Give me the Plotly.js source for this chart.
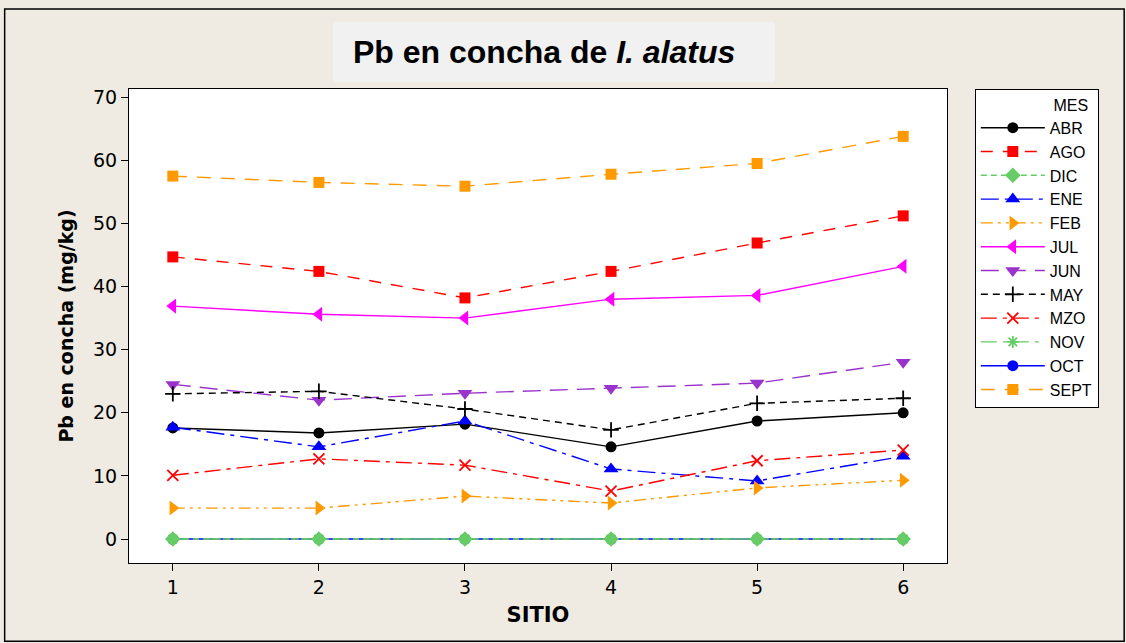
<!DOCTYPE html>
<html><head><meta charset="utf-8">
<script src="https://cdn.plot.ly/plotly-3.0.1.min.js"></script>
<style>body{margin:0;padding:0;background:#EFEBE2;}#chart{width:1126px;height:643px;}</style>
</head><body><div id="chart"></div>
<script>
const sitios = [1, 2, 3, 4, 5, 6];
const meses = ["ABR","AGO","DIC","ENE","FEB","JUL","JUN","MAY","MZO","NOV","OCT","SEPT"];
const drawOrder = ["OCT","ABR","AGO","ENE","FEB","JUL","JUN","MAY","MZO","NOV","DIC","SEPT"];
const ABR  = [17.6, 16.8, 18.2, 14.6, 18.7, 20.0];
const AGO  = [44.7, 42.4, 38.2, 42.4, 46.9, 51.2];
const DIC  = [0, 0, 0, 0, 0, 0];
const ENE  = [17.7, 14.6, 18.7, 11.1, 9.2, 13.1];
const FEB  = [4.9, 4.9, 6.8, 5.7, 8.1, 9.3];
const JUL  = [36.9, 35.6, 35.0, 38.0, 38.6, 43.2];
const JUN  = [24.5, 22.0, 23.1, 23.9, 24.7, 28.0];
const MAY  = [23.0, 23.4, 20.6, 17.3, 21.5, 22.3];
const MZO  = [10.1, 12.7, 11.7, 7.6, 12.4, 14.1];
const NOV  = [0, 0, 0, 0, 0, 0];
const OCT  = [0, 0, 0, 0, 0, 0];
const SEPT = [57.5, 56.5, 55.9, 57.8, 59.5, 63.8];
const yTicks = [0, 10, 20, 30, 40, 50, 60, 70];

const values = {ABR, AGO, DIC, ENE, FEB, JUL, JUN, MAY, MZO, NOV, OCT, SEPT};
const styles = {
  ABR:  {c:"#000000", s:"circle", d:"solid", ms:11},
  AGO:  {c:"#FF0000", s:"square", d:"12px,10px", ms:11},
  DIC:  {c:"#66CC66", s:"diamond", d:"6px,4px", ms:12},
  ENE:  {c:"#0000FF", s:"triangle-up", d:"18px,6px,4px,6px", ms:13},
  FEB:  {c:"#FF9900", s:"triangle-right", d:"12px,5px,3px,5px,3px,5px", ms:13},
  JUL:  {c:"#FF00FF", s:"triangle-left", d:"solid", ms:13},
  JUN:  {c:"#9933CC", s:"triangle-down", d:"18px,9px", ms:13},
  MAY:  {c:"#000000", s:"cross-thin", d:"7px,5px", ms:11, thin:true},
  MZO:  {c:"#FF0000", s:"x-thin", d:"16px,6px,4px,6px", ms:11, thin:true},
  NOV:  {c:"#66CC66", s:"asterisk", d:"16px,6px,4px,6px", ms:10, thin:true},
  OCT:  {c:"#0000FF", s:"circle", d:"solid", ms:11},
  SEPT: {c:"#FF9900", s:"square", d:"14px,10px", ms:11}
};

const traces = drawOrder.map(m => {
  const st = styles[m];
  return {
    x: sitios, y: values[m], name: m, type: "scatter", mode: "lines+markers",
    legendrank: meses.indexOf(m) + 1,
    line: {color: st.c, width: 1.4, dash: st.d},
    marker: {symbol: st.s, size: st.ms, color: st.c,
             line: {color: st.c, width: st.thin ? 1.8 : 0}}
  };
});

const layout = {
  width: 1126, height: 643,
  paper_bgcolor: "#EFEBE2", plot_bgcolor: "#FFFFFF",
  margin: {l: 129, r: 179, t: 89, b: 80},
  font: {family: "DejaVu Sans, Verdana, sans-serif", color: "#000000"},
  showlegend: true,
  xaxis: {
    range: [0.7, 6.3], tickvals: sitios, ticktext: sitios.map(String),
    ticks: "outside", ticklen: 7, tickcolor: "#000", tickwidth: 1,
    showline: true, linecolor: "#000", linewidth: 1, mirror: true,
    showgrid: false, zeroline: false,
    tickfont: {size: 19},
    title: {text: "<b>SITIO</b>", font: {size: 21, family: "DejaVu Sans, Verdana, sans-serif"}, standoff: 10}
  },
  yaxis: {
    range: [-3.8, 71.3], tickvals: yTicks,
    ticks: "outside", ticklen: 7, tickcolor: "#000", tickwidth: 1,
    showline: true, linecolor: "#000", linewidth: 1, mirror: true,
    showgrid: false, zeroline: false,
    tickfont: {size: 19},
    title: {text: "<b>Pb en concha (mg/kg)</b>", font: {size: 19, family: "DejaVu Sans, Verdana, sans-serif"}, standoff: 14}
  },
  legend: {
    x: 1.034, y: 1.0, xanchor: "left", yanchor: "top",
    bgcolor: "#FFFFFF", bordercolor: "#000000", borderwidth: 1,
    font: {size: 16, family: "Liberation Sans, Arial, sans-serif"}, itemwidth: 64, tracegroupgap: 0,
    title: {text: "                 MES", font: {size: 16, family: "Liberation Sans, Arial, sans-serif"}, side: "top"},
    traceorder: "normal"
  },
  shapes: [
    {type: "rect", xref: "paper", yref: "paper",
     x0: -0.152, x1: 1.2166, y0: -0.165, y1: 1.1688,
     line: {color: "#000000", width: 1.5}, fillcolor: "rgba(0,0,0,0)", layer: "below"},
    {type: "rect", xref: "paper", yref: "paper",
     x0: (333 - 129) / 818, x1: (775 - 129) / 818, y0: (563 - 82) / 474, y1: (563 - 22) / 474,
     line: {width: 0}, fillcolor: "#F1F1F1", layer: "below"}
  ],
  annotations: [
    {xref: "paper", yref: "paper", x: (544 - 129) / 818, y: (563 - 52) / 474,
     xanchor: "center", yanchor: "middle", showarrow: false,
     text: "<b>Pb en concha de <i>I. alatus</i></b>",
     font: {size: 32, family: "Liberation Sans, Arial, sans-serif", color: "#000"}}
  ]
};

Plotly.newPlot("chart", traces, layout, {displayModeBar: false, staticPlot: true});
</script></body></html>
